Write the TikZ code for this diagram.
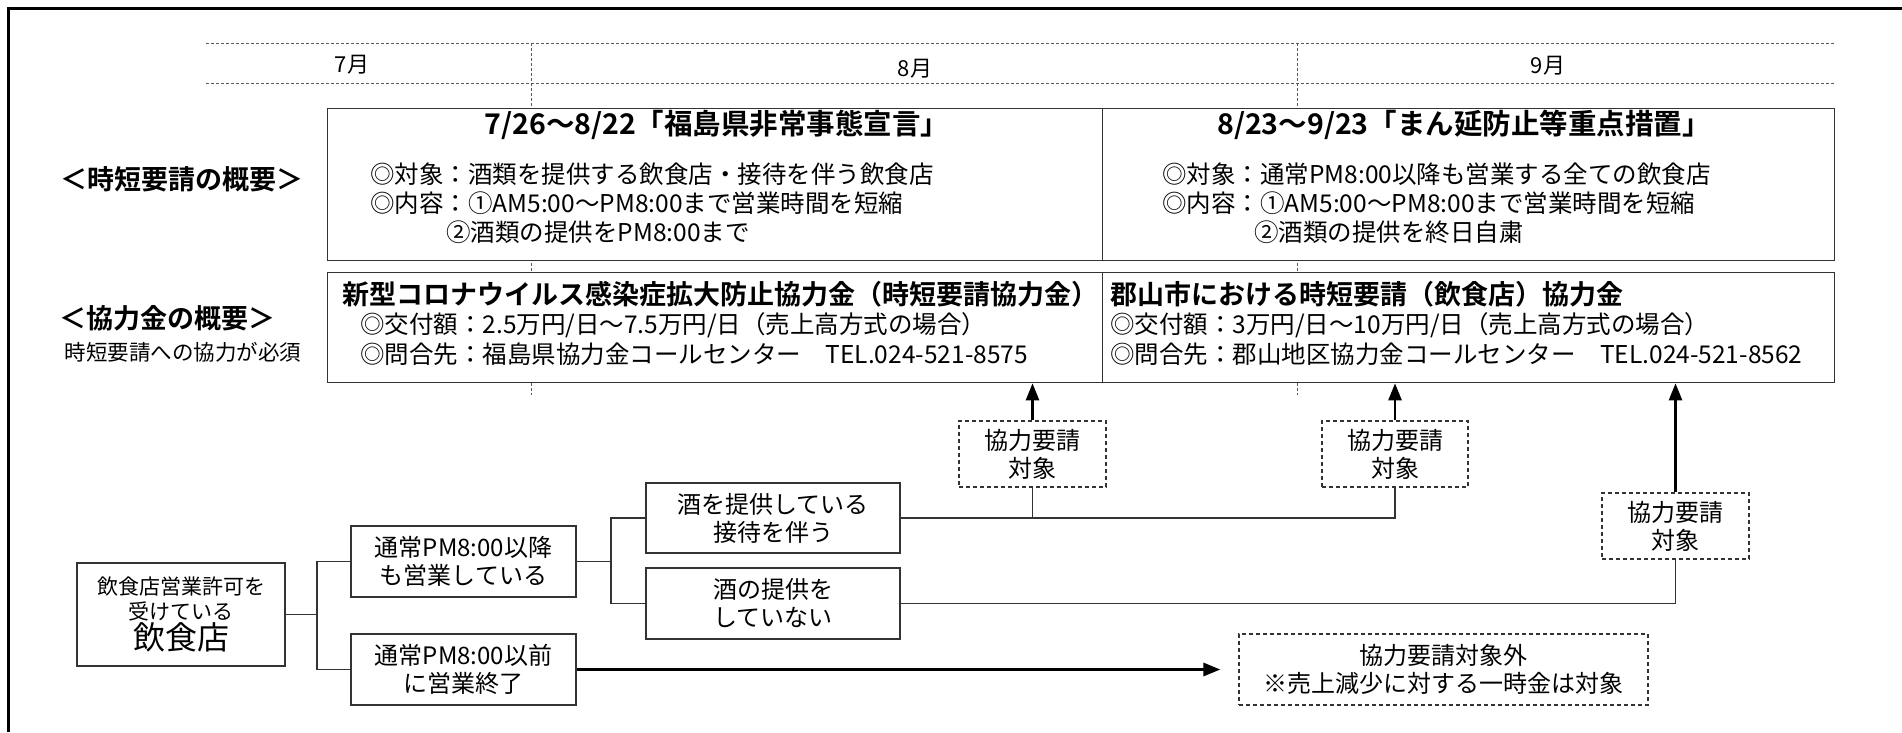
\documentclass[tikz,border=0pt]{standalone}
\usepackage{fontspec}
\setmainfont{Noto Sans CJK JP}[BoldFont={Noto Sans CJK JP Bold}]
\usetikzlibrary{arrows.meta}
\newcommand\fsz[2]{\fontsize{#1}{#2}\selectfont}
\begin{document}
\begin{tikzpicture}[x=1pt,y=-1pt,
  box/.style={draw=black!80, line width=1.3pt, fill=white, inner sep=0pt, anchor=north west},
  tbox/.style={draw=black!80, line width=1.3pt, fill=white, inner sep=0pt, align=center, font=\fsz{24}{28}},
  dbox/.style={draw=black!80, line width=1.3pt, dash pattern=on 4pt off 3pt, fill=white, inner sep=0pt, align=center, font=\fsz{24}{28}},
  gridline/.style={draw=black!65, line width=1pt, dash pattern=on 3pt off 2pt},
  conn/.style={draw=black!80, line width=1.6pt},
  arr/.style={draw=black, line width=2.5pt, -{Triangle[length=17pt,width=13pt]}},
  lbl/.style={inner sep=0pt, anchor=west, font=\fsz{24.5}{28}},
  ttl/.style={inner sep=0pt, font=\bfseries\fsz{28.5}{32}},
  mon/.style={inner sep=0pt, font=\fsz{22}{24}},
]
\useasboundingbox (0,0) rectangle (1902,732);
\fill[white] (0,0) rectangle (1902,732);
\draw[line width=3pt] (8.5,732) -- (8.5,8.5) -- (1902,8.5);

% month grid
\coordinate (g1) at (206,43); \coordinate (g2) at (1834,43);
\coordinate (g3) at (206,83); \coordinate (g4) at (1834,83);
\coordinate (v1t) at (531,43); \coordinate (v1b) at (531,395);
\coordinate (v2t) at (1297,43); \coordinate (v2b) at (1297,395);
\draw[gridline] (g1) -- (g2);
\draw[gridline] (g3) -- (g4);
\draw[gridline] (v1t) -- (v1b);
\draw[gridline] (v2t) -- (v2b);
\node[mon] (m7) at (352,65) {7月};
\node[mon] (m8) at (915,69) {8月};
\node[mon] (m9) at (1548,66) {9月};

% left labels
\node[inner sep=0pt, font=\bfseries\fsz{27}{30}] (L1) at (182,179) {＜時短要請の概要＞};
\node[inner sep=0pt, font=\bfseries\fsz{27}{30}] (L2) at (167,318) {＜協力金の概要＞};
\node[inner sep=0pt, font=\fsz{21.5}{24}] (L3) at (183,352) {時短要請への協力が必須};

% row 1 boxes
\node[box, minimum width=775pt, minimum height=152pt] (b1) at (327,108) {};
\node[box, minimum width=732pt, minimum height=152pt] (b2) at (1102,108) {};
% row 2 boxes
\node[box, minimum width=775pt, minimum height=110pt] (b3) at (327,272) {};
\node[box, minimum width=732pt, minimum height=110pt] (b4) at (1102,272) {};

% row 1 texts
\node[ttl] (t1) at (717,125) {7/26〜8/22「福島県非常事態宣言」};
\node[lbl] (t1a) at (370,174) {◎対象：酒類を提供する飲食店・接待を伴う飲食店};
\node[lbl] (t1b) at (370,203) {◎内容：①AM5:00〜PM8:00まで営業時間を短縮};
\node[lbl] (t1c) at (446,232) {②酒類の提供をPM8:00まで};
\node[ttl] (t2) at (1464,125) {8/23〜9/23「まん延防止等重点措置」};
\node[lbl] (t2a) at (1162,174) {◎対象：通常PM8:00以降も営業する全ての飲食店};
\node[lbl] (t2b) at (1162,203) {◎内容：①AM5:00〜PM8:00まで営業時間を短縮};
\node[lbl] (t2c) at (1254,232) {②酒類の提供を終日自粛};

% row 2 texts
\node[ttl, anchor=west, font=\bfseries\fsz{27}{30}] (t3) at (342,294) {新型コロナウイルス感染症拡大防止協力金（時短要請協力金）};
\node[lbl] (t3a) at (360,325) {◎交付額：2.5万円/日〜7.5万円/日（売上高方式の場合）};
\node[lbl] (t3b) at (360,354) {◎問合先：福島県協力金コールセンター　TEL.024-521-8575};
\node[ttl, anchor=west, font=\bfseries\fsz{27}{30}] (t4) at (1110,294) {郡山市における時短要請（飲食店）協力金};
\node[lbl] (t4a) at (1110,325) {◎交付額：3万円/日〜10万円/日（売上高方式の場合）};
\node[lbl] (t4b) at (1110,354) {◎問合先：郡山地区協力金コールセンター　TEL.024-521-8562};

% tree
\node[tbox, minimum width=208pt, minimum height=103pt, font=\fsz{21}{25}] (r0) at (181,614.5) {飲食店営業許可を\\受けている\\[1pt]\fsz{32}{36}飲食店};
\node[tbox, minimum width=225pt, minimum height=71pt] (A) at (463.5,561.5) {通常PM8:00以降\\も営業している};
\node[tbox, minimum width=225pt, minimum height=71pt] (B) at (463.5,669.5) {通常PM8:00以前\\に営業終了};
\node[tbox, minimum width=254pt, minimum height=70pt] (C) at (773,518) {酒を提供している\\接待を伴う};
\node[tbox, minimum width=254pt, minimum height=71pt] (D) at (773,603.5) {酒の提供を\\していない};
\node[dbox, minimum width=147pt, minimum height=66pt] (d1) at (1032.5,454) {協力要請\\対象};
\node[dbox, minimum width=146pt, minimum height=66pt] (d2) at (1395,454) {協力要請\\対象};
\node[dbox, minimum width=147pt, minimum height=66pt] (d3) at (1675.5,526) {協力要請\\対象};
\node[dbox, minimum width=409pt, minimum height=71pt] (d4) at (1443.5,669.5) {協力要請対象外\\※売上減少に対する一時金は対象};

\coordinate (j1) at (317,614.5);
\coordinate (j2) at (611,561.5);
\draw[conn] (r0.east) -- (j1);
\draw[conn] (A.west) -| (j1);
\draw[conn] (B.west) -| (j1);
\draw[conn] (A.east) -- (j2);
\draw[conn] (C.west) -| (j2);
\draw[conn] (D.west) -| (j2);
\draw[conn] (C.east) -| (d2.south);
\draw[conn] (d1.south) -- (d1.south |- C.east);
\draw[conn] (D.east) -| (d3.south);

\draw[arr] (d1.north) -- (d1.north |- b3.south);
\draw[arr] (d2.north) -- (d2.north |- b4.south);
\draw[arr] (d3.north) -- (d3.north |- b4.south);
\draw[arr, line width=3pt] (B.east) -- ([xshift=-18pt]d4.west);
\end{tikzpicture}
\end{document}
